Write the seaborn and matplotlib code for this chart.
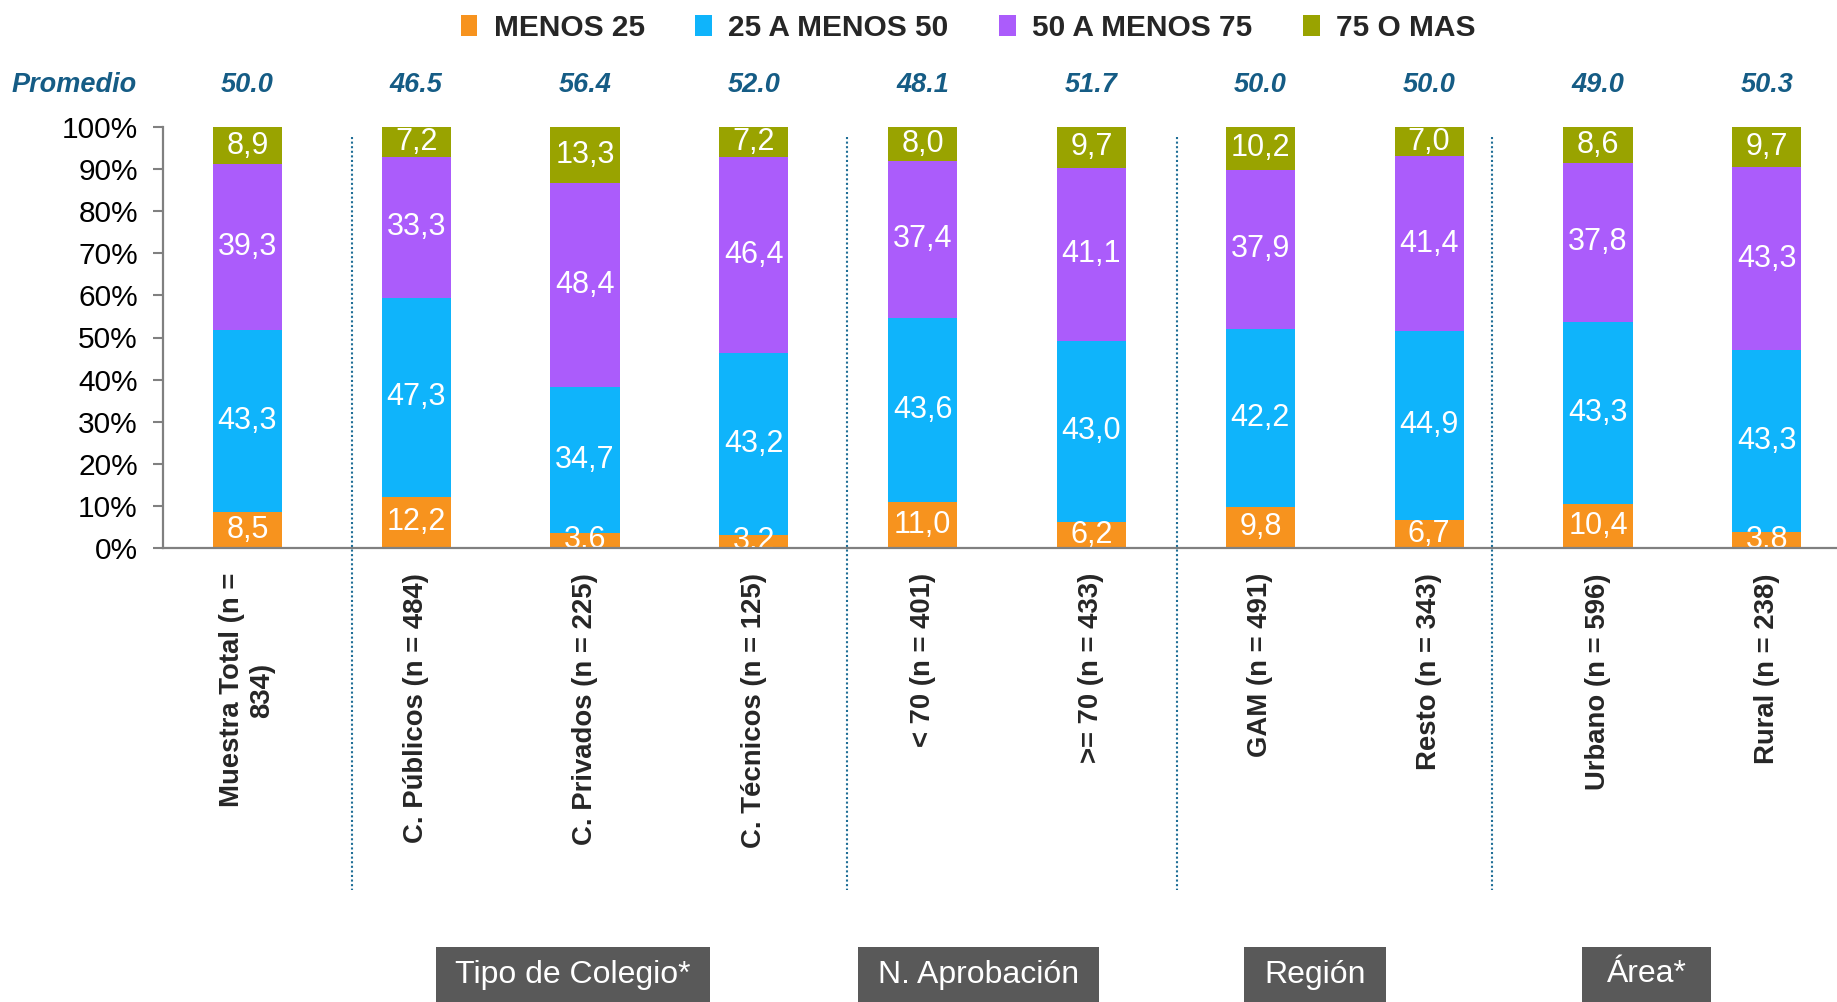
import pandas as pd
import matplotlib.pyplot as plt
import seaborn as sns
from matplotlib.patches import Patch, Rectangle
from matplotlib.transforms import blended_transform_factory

categorias = ["Muestra Total (n =\n834)", "C. Públicos (n = 484)", "C. Privados (n = 225)",
              "C. Técnicos (n = 125)", "< 70 (n = 401)", ">= 70 (n = 433)",
              "GAM (n = 491)", "Resto (n = 343)", "Urbano (n = 596)", "Rural (n = 238)"]
menos_25 = [8.5, 12.2, 3.6, 3.2, 11.0, 6.2, 9.8, 6.7, 10.4, 3.8]
de_25_a_50 = [43.3, 47.3, 34.7, 43.2, 43.6, 43.0, 42.2, 44.9, 43.3, 43.3]
de_50_a_75 = [39.3, 33.3, 48.4, 46.4, 37.4, 41.1, 37.9, 41.4, 37.8, 43.3]
mas_75 = [8.9, 7.2, 13.3, 7.2, 8.0, 9.7, 10.2, 7.0, 8.6, 9.7]
promedio = [50.0, 46.5, 56.4, 52.0, 48.1, 51.7, 50.0, 50.0, 49.0, 50.3]
series = ["MENOS 25", "25 A MENOS 50", "50 A MENOS 75", "75 O MAS"]
grupos = ["Tipo de Colegio*", "N. Aprobación", "Región", "Área*"]

colores = ["#F7931E", "#0FB4FB", "#AB5CFB", "#99A300"]

sns.set_style("white")
plt.rcParams["font.family"] = ["Liberation Sans", "DejaVu Sans"]

df = pd.DataFrame({"cat": categorias, series[0]: menos_25, series[1]: de_25_a_50,
                   series[2]: de_50_a_75, series[3]: mas_75})
acum = df[series].cumsum(axis=1)

W, H = 1837, 1002
fig = plt.figure(figsize=(W / 100, H / 100), dpi=100)
ax = fig.add_axes([163 / W, 1 - 548 / H, 1 - 163 / W, (548 - 127) / H])

# stacked bars: draw cumulative totals from the top layer down
for s, c in reversed(list(zip(series, colores))):
    sns.barplot(x=df["cat"], y=acum[s], color=c, saturation=1, width=0.41,
                errorbar=None, linewidth=0, ax=ax)

for i in range(len(df)):
    base = 0
    for s in series:
        v = df.loc[i, s]
        ax.text(i, base + v / 2, f"{v:.1f}".replace(".", ","), color="white",
                ha="center", va="center", fontsize=22, zorder=2)
        base += v

ax.set_xlim(-0.5, 9.416)
ax.set_ylim(0, 100)
ax.set_xlabel("")
ax.set_ylabel("")
ax.set_yticks(range(0, 101, 10))
ax.set_yticklabels([f"{t}%" for t in range(0, 101, 10)])
ax.set_xticks(range(len(categorias)))
ax.set_xticklabels(categorias, rotation=90, fontsize=19.8, fontweight="bold",
                   ha="center", va="top", multialignment="center")
ax.tick_params(axis="y", direction="out", length=7, width=1.5, color="#808080",
               pad=11, labelsize=21.5, labelcolor="black", left=True)
ax.tick_params(axis="x", length=0, pad=18)
for side in ["top", "right"]:
    ax.spines[side].set_visible(False)
for side in ["left", "bottom"]:
    ax.spines[side].set_color("#808080")
    ax.spines[side].set_linewidth(1.6)
    ax.spines[side].set_zorder(5)

trans = blended_transform_factory(ax.transData, fig.transFigure)
for xs in [0.618, 3.551, 5.506, 7.371]:
    ax.plot([xs, xs], [1 - 137 / H, 1 - 890 / H], transform=trans, ls=(0, (1, 1.2)),
            color="#1F6E96", lw=1.5, clip_on=False)

# promedio row
for i, p in enumerate(promedio):
    ax.text(i, 1 - 85.5 / H, f"{p:.1f}", transform=trans, ha="center", va="center",
            fontsize=19.5, fontweight="bold", fontstyle="italic", color="#155C85")
fig.text(12 / W, 1 - 85.5 / H, "Promedio", ha="left", va="center", fontsize=19.5,
         fontweight="bold", fontstyle="italic", color="#155C85")

handles = [Patch(facecolor=c, edgecolor="none") for c in colores]
fig.legend(handles, series, loc="center", bbox_to_anchor=(0.527, 1 - 28 / H), ncol=4,
           frameon=False, prop={"weight": "bold", "size": 21.5}, handlelength=0.55,
           handleheight=0.7, handletextpad=0.55, columnspacing=1.7)

cajas = [(436, 710), (858, 1099), (1244, 1386), (1582, 1711)]
for (x0, x1), nombre in zip(cajas, grupos):
    fig.patches.append(Rectangle((x0 / W, 0), (x1 - x0) / W, (H - 947) / H,
                                 transform=fig.transFigure, facecolor="#595959",
                                 edgecolor="none"))
    fig.text((x0 + x1) / 2 / W, 1 - 974.5 / H, nombre, color="white", fontsize=23,
             ha="center", va="center")

fig.savefig("out.png", dpi=100)
